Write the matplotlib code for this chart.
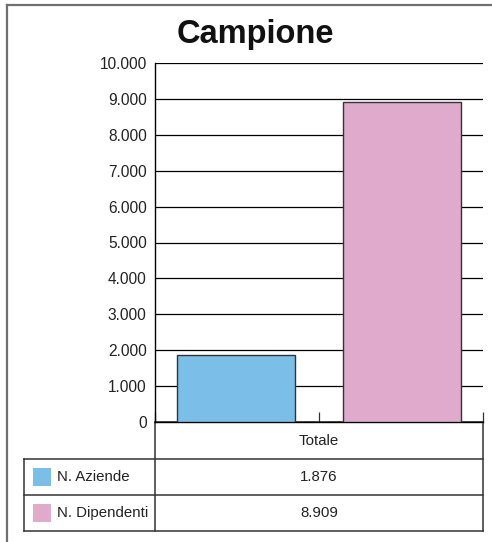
import matplotlib
matplotlib.use("Agg")
import matplotlib.pyplot as plt
from matplotlib.lines import Line2D

plt.rcParams['font.family'] = ['Liberation Sans', 'DejaVu Sans']

title = "Campione"
category = "Totale"
series = ["N. Aziende", "N. Dipendenti"]
values = [1876, 8909]
colors = ["#7bbee8", "#e0aacc"]
yticks = [0, 1000, 2000, 3000, 4000, 5000, 6000, 7000, 8000, 9000, 10000]

def fmt(v):
    return f"{v:,}".replace(",", ".")

W, H = 492, 542
fig = plt.figure(figsize=(W / 100, H / 100), dpi=100)

# overlay axes in pixel coordinates
ov = fig.add_axes([0, 0, 1, 1])
ov.set_xlim(0, W)
ov.set_ylim(H, 0)
ov.axis("off")

# outer frame (top and left)
ov.add_line(Line2D([7, W], [5, 5], color="#707070", lw=1.6))
ov.add_line(Line2D([7, 7], [5, H], color="#707070", lw=1.6))

x0, x1 = 155, 483
ytop, ybot = 63, 422
ax = fig.add_axes([x0 / W, 1 - ybot / H, (x1 - x0) / W, (ybot - ytop) / H])
ax.set_xlim(0, 2)
ax.set_ylim(0, 10000)
positions = [0.495, 1.505]
ax.bar(positions, values, width=0.72, color=colors, edgecolor="#333333", linewidth=1.0, zorder=3)
ax.set_yticks(yticks)
ax.set_yticklabels([fmt(v) for v in yticks], fontsize=11.2, color="#222222")
ax.yaxis.grid(True, color="black", lw=0.9)
ax.set_axisbelow(True)
ax.tick_params(axis="y", length=0, pad=6, color="black")
ax.set_xticks([0, 1, 2])
ax.set_xticklabels([])
ax.tick_params(axis="x", direction="in", length=7, width=0.9, color="#333333")
for s in ["top", "right"]:
    ax.spines[s].set_visible(False)
ax.spines["left"].set_linewidth(1.0)
ax.spines["bottom"].set_linewidth(1.0)
ax.patch.set_alpha(0)

# title
ov.text(255, 35, title, ha="center", va="center", fontsize=23.5, fontweight="bold", color="#111111")

# table
lc = "#333333"
lw = 1.1
rows_y = [422, 459, 495, 531]
ov.add_line(Line2D([x0, x1], [rows_y[0], rows_y[0]], color=lc, lw=lw))
for yy in rows_y[1:]:
    ov.add_line(Line2D([24, x1], [yy, yy], color=lc, lw=lw))
ov.add_line(Line2D([x0, x0], [422, 531], color=lc, lw=lw))
ov.add_line(Line2D([x1, x1], [422, 531], color=lc, lw=lw))
ov.add_line(Line2D([24, 24], [459, 531], color=lc, lw=lw))

cx = (x0 + x1) / 2
fs = 10.8
ov.text(cx, 441, category, ha="center", va="center", fontsize=fs, color="#222222")
for i, (name, v, c) in enumerate(zip(series, values, colors)):
    yc = (rows_y[i + 1] + rows_y[i + 2]) / 2
    ov.add_patch(plt.Rectangle((33, yc - 9), 18, 18, color=c, lw=0))
    ov.text(57, yc, name, ha="left", va="center", fontsize=fs, color="#222222")
    ov.text(cx, yc, fmt(v), ha="center", va="center", fontsize=fs, color="#222222")

fig.savefig("out.png", dpi=100)
